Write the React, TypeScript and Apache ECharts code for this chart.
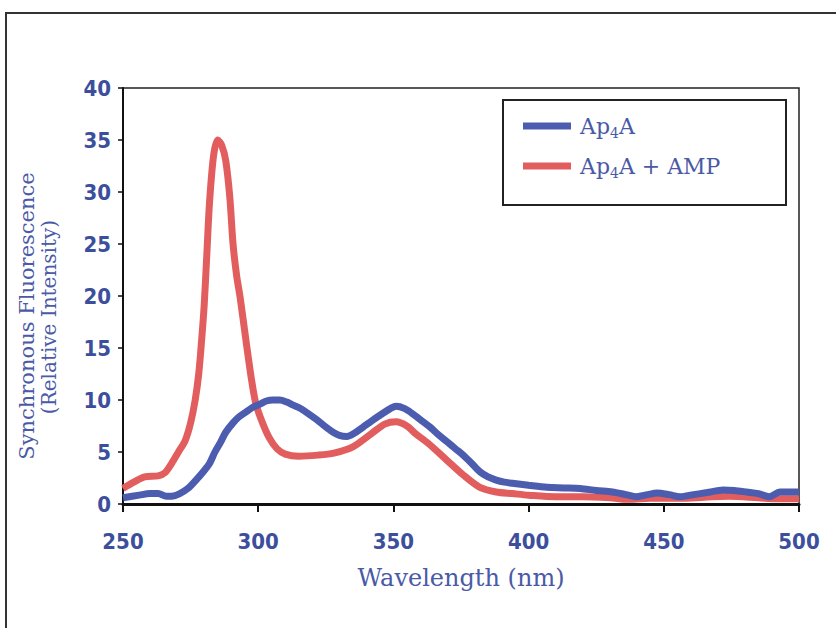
import React, { useEffect, useRef } from "react";
import * as echarts from "echarts";

// Ap4A (blue) : wavelength (nm) and relative intensity
const blueX = [250, 256, 260, 263, 266, 268, 271, 274, 277, 280, 282, 284, 286, 288, 290.7, 293, 295.8, 298, 300.7, 303, 305.5, 308, 310.6, 313, 315.5, 318.5, 321.7, 325, 327.7, 330, 332.8, 335.5, 338.8, 342, 346, 349, 351, 354, 357, 360, 363.5, 366.5, 369.8, 373, 375.8, 379, 382, 385, 388, 391, 394, 400, 406.8, 413, 419, 425, 431, 436, 440, 444, 447.5, 452, 456, 461, 466, 472, 476, 480.7, 485, 489, 493, 500];
const blueY = [0.6, 0.85, 1.0, 1.0, 0.75, 0.75, 1.0, 1.5, 2.3, 3.2, 3.9, 5.0, 5.9, 6.9, 7.8, 8.4, 8.9, 9.3, 9.6, 9.9, 10.0, 10.0, 9.8, 9.5, 9.2, 8.7, 8.1, 7.4, 6.9, 6.6, 6.5, 6.8, 7.4, 8.0, 8.7, 9.2, 9.4, 9.2, 8.7, 8.1, 7.4, 6.7, 6.0, 5.3, 4.7, 3.9, 3.1, 2.6, 2.3, 2.1, 2.0, 1.8, 1.6, 1.55, 1.5, 1.3, 1.15, 0.9, 0.7, 0.9, 1.05, 0.9, 0.7, 0.9, 1.1, 1.35, 1.3, 1.15, 1.0, 0.7, 1.15, 1.15];

// Ap4A + AMP (red)
const redX = [250, 254, 258, 263, 265.5, 268, 270.5, 273, 275, 276.7, 278, 279, 280, 281, 282, 283.5, 285, 286.5, 288, 289.5, 290.7, 292, 293.3, 295.8, 297.5, 299, 301, 304, 307, 310, 315, 322, 328, 335, 342, 347, 351, 355, 358, 363, 369.8, 375.8, 382, 388, 394, 400, 410, 420, 430, 437, 445, 456, 465, 474, 485, 492, 500];
const redY = [1.5, 2.1, 2.6, 2.7, 3.0, 3.9, 5.0, 6.1, 7.8, 10, 12.5, 15.5, 19, 24, 29, 33.5, 35, 34.5, 33, 29.5, 25, 22, 19.9, 15.1, 12, 9.8, 8.2, 6.4, 5.3, 4.8, 4.6, 4.7, 4.9, 5.5, 6.8, 7.7, 7.9, 7.5, 6.8, 5.8, 4.2, 2.8, 1.6, 1.15, 1.0, 0.85, 0.7, 0.7, 0.6, 0.45, 0.55, 0.55, 0.65, 0.75, 0.6, 0.5, 0.5];

const seriesNames = ["Ap4A", "Ap4A + AMP"];
const xTitle = "Wavelength (nm)";
const yTitleLines = ["Synchronous Fluorescence", "(Relative Intensity)"];

const BLUE_LINE = "#4c5caf";
const RED_LINE = "#e25e5e";
const LABEL_BLUE = "#3c4f9c";
const TITLE_BLUE = "#4a5aa6";
const SERIF = "'DejaVu Serif', 'Liberation Serif', serif";
const COND = "'DejaVu Sans Condensed', 'Liberation Sans Narrow', 'DejaVu Sans', sans-serif";

export default function App() {
  const ref = useRef<HTMLDivElement>(null);
  useEffect(() => {
    if (!ref.current) return;
    const chart = echarts.init(ref.current, null, { renderer: "svg" });
    const blueData = blueX.map((x, i) => [x, blueY[i]]);
    const redData = redX.map((x, i) => [x, redY[i]]);
    chart.setOption({
      animation: false,
      backgroundColor: "#ffffff",
      grid: {
        left: 123,
        top: 88,
        width: 676,
        height: 416,
        show: true,
        borderColor: "#222",
        borderWidth: 1.5,
        backgroundColor: "transparent",
      },
      legend: {
        left: 518,
        top: 110,
        orient: "vertical",
        itemWidth: 48,
        itemHeight: 7,
        itemGap: 15,
        data: seriesNames.map((n) => ({ name: n, icon: "rect" })),
        formatter: (name: string) =>
          name === seriesNames[0] ? "{a|Ap}{s|4}{a|A}" : "{a|Ap}{s|4}{a|A + AMP}",
        textStyle: {
          padding: [0, 0, 0, 4],
          rich: {
            a: { fontFamily: SERIF, fontSize: 22, color: TITLE_BLUE, lineHeight: 28, verticalAlign: "middle" },
            s: { fontFamily: SERIF, fontSize: 14, color: TITLE_BLUE, lineHeight: 14, verticalAlign: "bottom" },
          },
        },
      },
      xAxis: {
        type: "value",
        min: 250,
        max: 500,
        interval: 50,
        name: xTitle,
        nameLocation: "middle",
        nameGap: 62,
        nameTextStyle: { fontFamily: SERIF, fontSize: 24, color: TITLE_BLUE },
        axisLine: { show: true, lineStyle: { color: "#111", width: 3 } },
        axisTick: { show: true, inside: false, length: 8, lineStyle: { color: "#111", width: 2 } },
        axisLabel: { margin: 26, fontFamily: COND, fontWeight: "bold", fontSize: 22, color: LABEL_BLUE },
        splitLine: { show: false },
      },
      yAxis: {
        type: "value",
        min: 0,
        max: 40,
        interval: 5,
        axisLine: { show: true, lineStyle: { color: "#111", width: 2 } },
        axisTick: { show: true, inside: false, length: 5, lineStyle: { color: "#111", width: 1.5 } },
        axisLabel: { margin: 12, fontFamily: COND, fontWeight: "bold", fontSize: 22, color: LABEL_BLUE },
        splitLine: { show: false },
      },
      graphic: [
        {
          type: "rect",
          shape: { x: 6, y: 13, width: 860, height: 650 },
          style: { fill: "none", stroke: "#333", lineWidth: 2 },
          silent: true,
        },
        {
          type: "rect",
          shape: { x: 503, y: 100, width: 283, height: 105 },
          style: { fill: "#fff", stroke: "#222", lineWidth: 2 },
          z: -1,
          silent: true,
        },
        {
          type: "text",
          x: 27,
          y: 316,
          rotation: Math.PI / 2,
          style: {
            text: yTitleLines[0],
            fontFamily: SERIF,
            fontSize: 21,
            fill: TITLE_BLUE,
            textAlign: "center",
            textVerticalAlign: "middle",
          },
        },
        {
          type: "text",
          x: 49,
          y: 317,
          rotation: Math.PI / 2,
          style: {
            text: yTitleLines[1],
            fontFamily: SERIF,
            fontSize: 20,
            fill: TITLE_BLUE,
            textAlign: "center",
            textVerticalAlign: "middle",
          },
        },
      ],
      series: [
        {
          name: seriesNames[0],
          type: "line",
          data: blueData,
          showSymbol: false,
          smooth: 0.3,
          color: BLUE_LINE,
          lineStyle: { width: 7, color: BLUE_LINE },
          z: 3,
        },
        {
          name: seriesNames[1],
          type: "line",
          data: redData,
          showSymbol: false,
          smooth: 0.3,
          color: RED_LINE,
          lineStyle: { width: 7, color: RED_LINE },
          z: 2,
        },
      ],
    });
    return () => chart.dispose();
  }, []);
  return (
    <div
      ref={ref}
      style={{ position: "absolute", left: 0, top: 0, width: 836, height: 628 }}
    />
  );
}
